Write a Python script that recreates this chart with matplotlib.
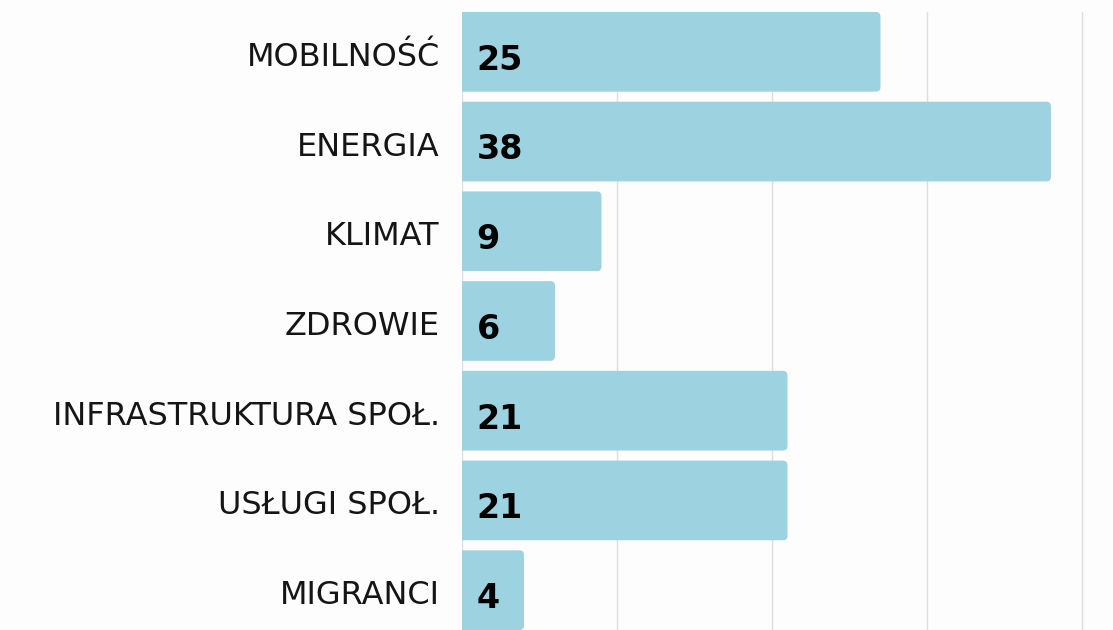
import matplotlib
matplotlib.use("Agg")
import matplotlib.pyplot as plt
from matplotlib.patches import FancyBboxPatch
from matplotlib.transforms import offset_copy

categories = ["MOBILNOŚĆ", "ENERGIA", "KLIMAT", "ZDROWIE",
              "INFRASTRUKTURA SPOŁ.", "USŁUGI SPOŁ.", "MIGRANCI"]
values = [27, 38, 9, 6, 21, 21, 4]
value_labels = ["25", "38", "9", "6", "21", "21", "4"]
grid_ticks = [0, 10, 20, 30, 40]

plt.rcParams['font.family'] = ['DejaVu Sans']

fig = plt.figure(figsize=(11.13, 6.30), dpi=100)
fig.patch.set_facecolor("#fdfdfd")
ax = fig.add_axes([462/1113, 0, 1 - 462/1113, 618/630])
ax.set_facecolor("#fdfdfd")

h = 0.888
ypos = list(range(len(categories)))
bars = ax.barh(ypos, values, height=h, color="#9dd3e1")
ax.set_xlim(0, 42)
ax.set_ylim(len(categories) - 1 + h/2, -h/2)

# replace bars with rounded versions
for b in bars:
    x0, y0 = b.get_x(), b.get_y()
    w, hh = b.get_width(), b.get_height()
    b.set_visible(False)
    p = FancyBboxPatch((x0 - 0.5, y0), w + 0.5, hh,
                       boxstyle="round,pad=0,rounding_size=0.3",
                       mutation_aspect=0.17, facecolor="#9dd3e1",
                       edgecolor="none", zorder=2)
    ax.add_patch(p)

ax.set_xticks(grid_ticks)
ax.xaxis.grid(True, color="#dedede", linewidth=1)
ax.set_axisbelow(True)
ax.tick_params(axis="x", length=0, labelbottom=False)
ax.set_yticks([])
for s in ax.spines.values():
    s.set_visible(False)

# category labels (right aligned, just left of the axis)
lab_tr = offset_copy(ax.get_yaxis_transform(), fig=fig, x=-16, y=-4, units="points")
for y, cat in zip(ypos, categories):
    ax.text(0, y, cat, transform=lab_tr, ha="right", va="center",
            fontsize=23, color="#151515", clip_on=False)

val_tr = offset_copy(ax.transData, fig=fig, x=0, y=-6, units="points")
for y, lab in zip(ypos, value_labels):
    ax.text(0.95, y, lab, transform=val_tr, va="center", ha="left", fontsize=24,
            fontweight="bold", color="#000000", zorder=3)

fig.savefig("out.png", dpi=100, facecolor=fig.get_facecolor())
